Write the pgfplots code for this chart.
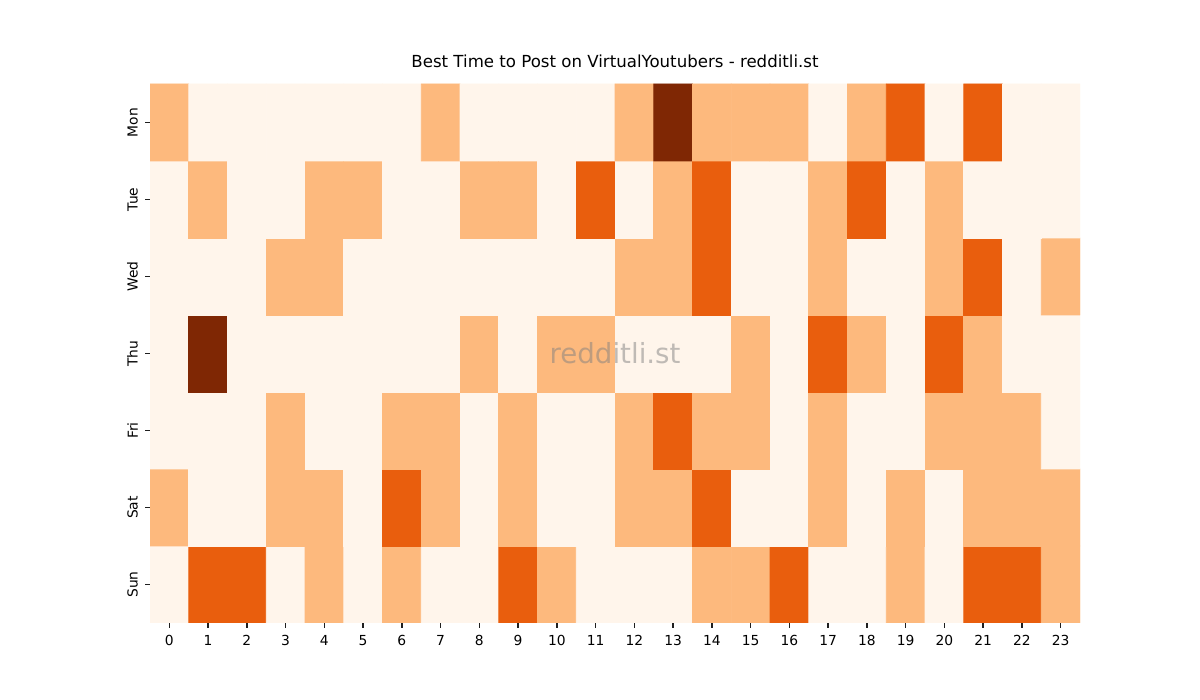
\documentclass[border=0pt]{standalone}
\usepackage{fontspec}
\setmainfont{DejaVu Sans}
\usepackage{pgfplots}
\pgfplotsset{compat=1.18}
\usepackage{pgfplotstable}

% hour, day (0 = Sun ... 6 = Mon), posting score
\pgfplotstableread[row sep=\\]{
x y z\\
0 0 0\\ 1 0 2\\ 2 0 2\\ 3 0 0\\ 4 0 1\\ 5 0 0\\ 6 0 1\\ 7 0 0\\ 8 0 0\\ 9 0 2\\ 10 0 1\\ 11 0 0\\ 12 0 0\\ 13 0 0\\ 14 0 1\\ 15 0 1\\ 16 0 2\\ 17 0 0\\ 18 0 0\\ 19 0 1\\ 20 0 0\\ 21 0 2\\ 22 0 2\\ 23 0 1\\
0 1 1\\ 1 1 0\\ 2 1 0\\ 3 1 1\\ 4 1 1\\ 5 1 0\\ 6 1 2\\ 7 1 1\\ 8 1 0\\ 9 1 1\\ 10 1 0\\ 11 1 0\\ 12 1 1\\ 13 1 1\\ 14 1 2\\ 15 1 0\\ 16 1 0\\ 17 1 1\\ 18 1 0\\ 19 1 1\\ 20 1 0\\ 21 1 1\\ 22 1 1\\ 23 1 1\\
0 2 0\\ 1 2 0\\ 2 2 0\\ 3 2 1\\ 4 2 0\\ 5 2 0\\ 6 2 1\\ 7 2 1\\ 8 2 0\\ 9 2 1\\ 10 2 0\\ 11 2 0\\ 12 2 1\\ 13 2 2\\ 14 2 1\\ 15 2 1\\ 16 2 0\\ 17 2 1\\ 18 2 0\\ 19 2 0\\ 20 2 1\\ 21 2 1\\ 22 2 1\\ 23 2 0\\
0 3 0\\ 1 3 3\\ 2 3 0\\ 3 3 0\\ 4 3 0\\ 5 3 0\\ 6 3 0\\ 7 3 0\\ 8 3 1\\ 9 3 0\\ 10 3 1\\ 11 3 1\\ 12 3 0\\ 13 3 0\\ 14 3 0\\ 15 3 1\\ 16 3 0\\ 17 3 2\\ 18 3 1\\ 19 3 0\\ 20 3 2\\ 21 3 1\\ 22 3 0\\ 23 3 0\\
0 4 0\\ 1 4 0\\ 2 4 0\\ 3 4 1\\ 4 4 1\\ 5 4 0\\ 6 4 0\\ 7 4 0\\ 8 4 0\\ 9 4 0\\ 10 4 0\\ 11 4 0\\ 12 4 1\\ 13 4 1\\ 14 4 2\\ 15 4 0\\ 16 4 0\\ 17 4 1\\ 18 4 0\\ 19 4 0\\ 20 4 1\\ 21 4 2\\ 22 4 0\\ 23 4 1\\
0 5 0\\ 1 5 1\\ 2 5 0\\ 3 5 0\\ 4 5 1\\ 5 5 1\\ 6 5 0\\ 7 5 0\\ 8 5 1\\ 9 5 1\\ 10 5 0\\ 11 5 2\\ 12 5 0\\ 13 5 1\\ 14 5 2\\ 15 5 0\\ 16 5 0\\ 17 5 1\\ 18 5 2\\ 19 5 0\\ 20 5 1\\ 21 5 0\\ 22 5 0\\ 23 5 0\\
0 6 1\\ 1 6 0\\ 2 6 0\\ 3 6 0\\ 4 6 0\\ 5 6 0\\ 6 6 0\\ 7 6 1\\ 8 6 0\\ 9 6 0\\ 10 6 0\\ 11 6 0\\ 12 6 1\\ 13 6 3\\ 14 6 1\\ 15 6 1\\ 16 6 1\\ 17 6 0\\ 18 6 1\\ 19 6 2\\ 20 6 0\\ 21 6 2\\ 22 6 0\\ 23 6 0\\
}\heatdata

\definecolor{tickcol}{rgb}{0.12,0.12,0.12}

\begin{document}
\begin{tikzpicture}[x=1bp,y=1bp]
\path[use as bounding box] (0,0) rectangle (864,504);
\begin{axis}[
  at={(108bp,55.44bp)}, anchor=south west,
  scale only axis, width=669.6bp, height=388.08bp,
  xmin=-0.5, xmax=23.5, ymin=-0.5, ymax=6.5,
  xtick={0,...,23}, ytick={0,...,6},
  yticklabels={Sun,Sat,Fri,Thu,Wed,Tue,Mon},
  axis line style={draw=none},
  xtick pos=bottom, ytick pos=left,
  tick align=outside,
  major tick length=3.6pt,
  every tick/.style={draw=tickcol, line width=1pt},
  axis on top,
  /pgf/number format/assume math mode=true,
  ticklabel style={font=\fontsize{10}{12}\selectfont},
  xticklabel style={inner sep=0pt, yshift=-5pt, anchor=north},
  yticklabel style={inner sep=0pt, xshift=-5pt, anchor=south, rotate=90},
  colormap={orng}{rgb255=(255,245,235) rgb255=(253,185,125) rgb255=(233,94,13) rgb255=(127,39,4)},
  point meta min=0, point meta max=3,
  title={Best Time to Post on VirtualYoutubers - redditli.st},
  title style={at={(0.5,1)}, anchor=base, yshift=6pt, inner sep=0pt,
    font=\fontsize{12}{14}\selectfont},
]
\addplot[matrix plot*, mesh/cols=24, point meta=explicit] table[meta=z] {\heatdata};
\node[text=gray, text opacity=0.5, font=\fontsize{20}{24}\selectfont]
  at (rel axis cs:0.5,0.5) {redditli.st};
\end{axis}
\end{tikzpicture}
\end{document}
